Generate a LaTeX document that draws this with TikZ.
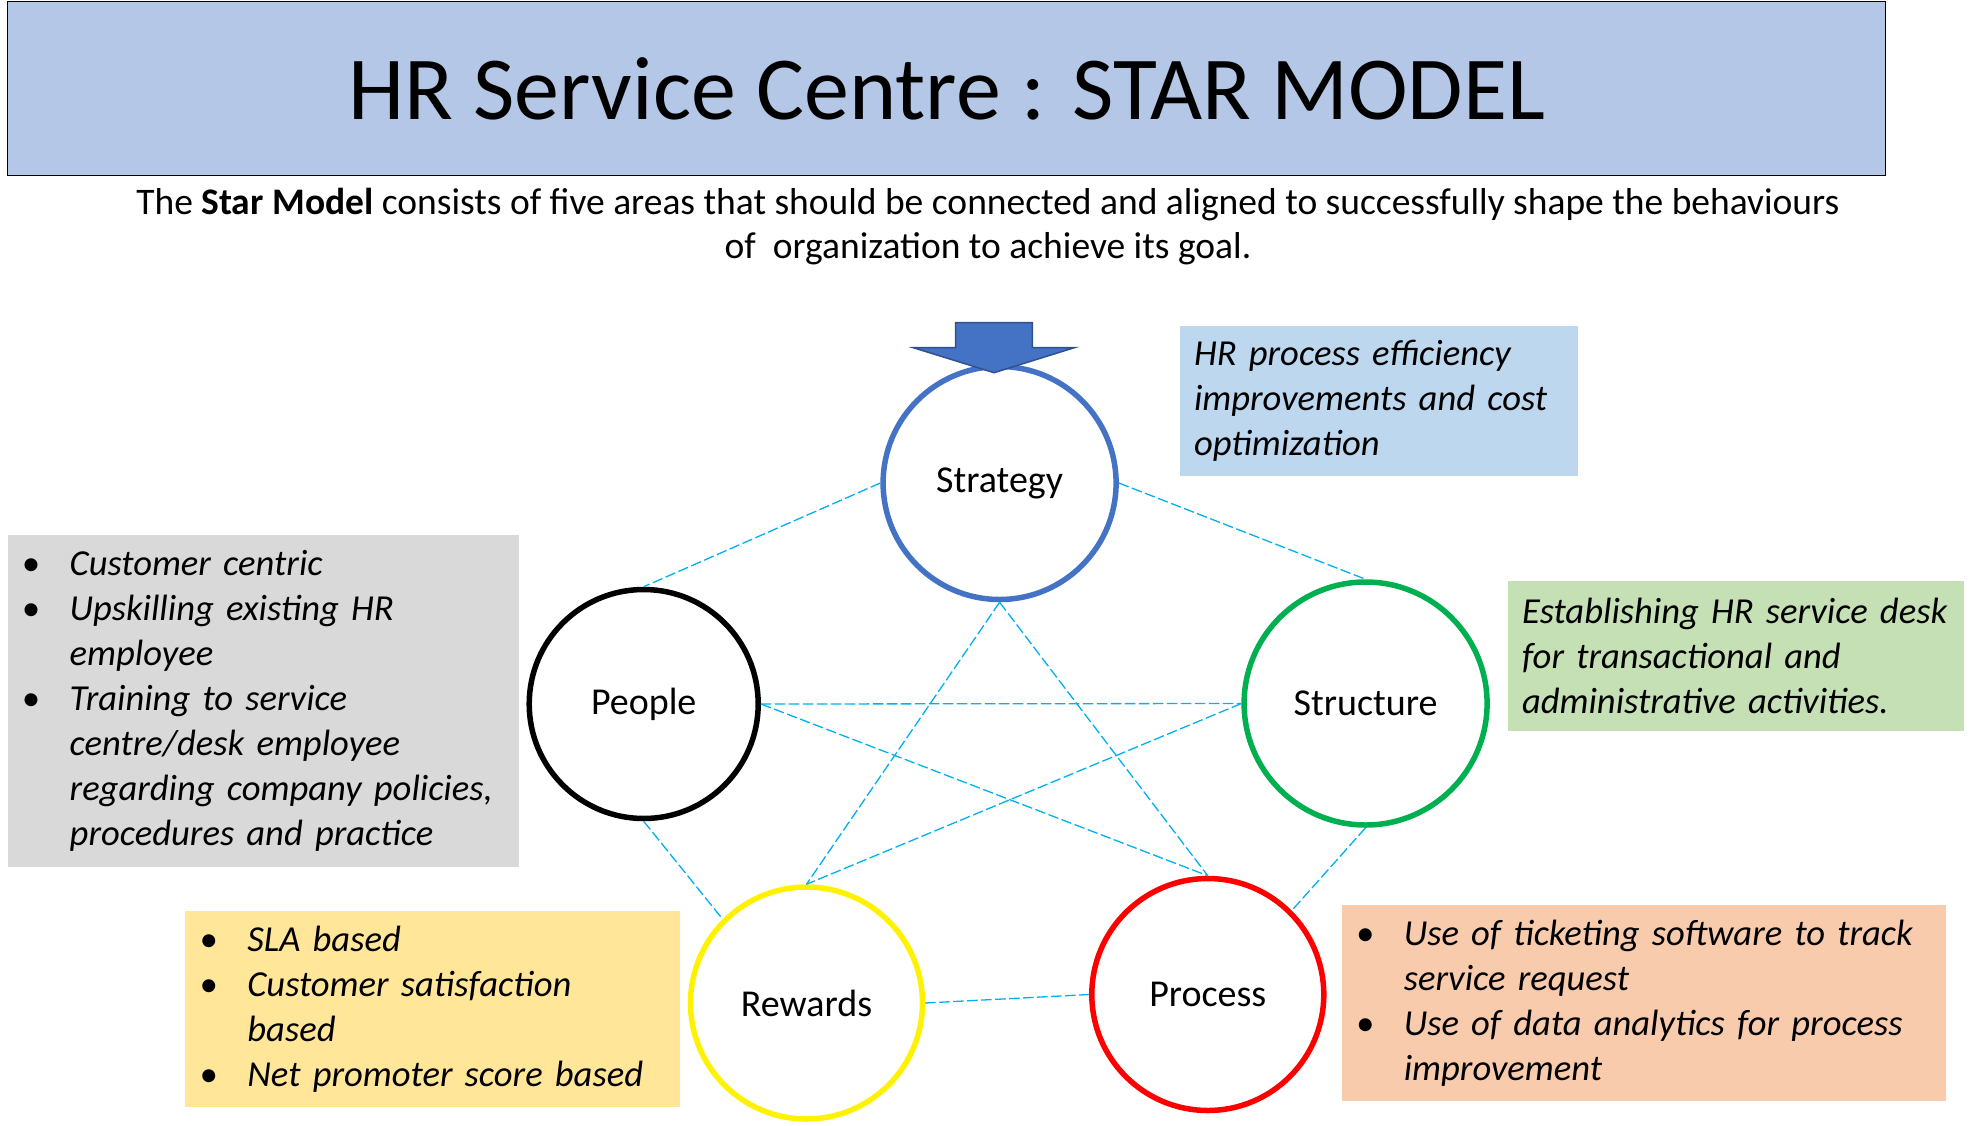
\documentclass[tikz,border=0pt]{standalone}
\usepackage{fontspec}
\setmainfont{Carlito}
\definecolor{titlefill}{HTML}{B4C7E7}
\definecolor{linkblue}{HTML}{00B0F0}
\definecolor{strategyblue}{HTML}{4472C4}
\definecolor{arrowedge}{HTML}{2F528F}
\definecolor{structuregreen}{HTML}{00B050}
\definecolor{greybox}{HTML}{D9D9D9}
\definecolor{bluebox}{HTML}{BDD7EE}
\definecolor{greenbox}{HTML}{C5E0B4}
\definecolor{yellowbox}{HTML}{FFE699}
\definecolor{orangebox}{HTML}{F8CBAD}
\newcommand{\bul}{\makebox[48pt][l]{\textbullet}}
\newcommand{\ind}{\hspace*{48pt}}
\begin{document}
\begin{tikzpicture}
  [x=1pt,y=-1pt,
   every node/.style={font=\fontsize{37.5}{44}\selectfont},
   area/.style={circle,draw,line width=5.5pt,fill=white,inner sep=0pt,font=\fontsize{38}{45}\selectfont},
   note/.style={rectangle,inner xsep=14pt,inner ysep=0pt,align=left,font=\fontsize{36.6}{45}\selectfont\itshape},
   link/.style={draw=linkblue,double=white,double distance=1.4pt,line width=1.3pt,dash pattern=on 10.5pt off 3.5pt}]
  \useasboundingbox (0,0) rectangle (1979,1125);
  \node (title) [draw,fill=titlefill,line width=1.5pt,minimum width=1878pt,minimum height=174pt,font=\fontsize{90}{108}\selectfont] at (946.6,88.4) {HR Service Centre : STAR MODEL};
  \node (intro) [align=center] at (988,227) {The \textbf{Star Model} consists of five areas that should be connected and aligned to successfully shape the behaviours\\of \ organization to achieve its goal.};
  % text boxes
  \node (goal) [note,fill=bluebox,text width=370pt,minimum height=150pt] at (1379,400.7) {HR process efficiency\\improvements and cost\\optimization};
  \node (peopletxt) [note,fill=greybox,text width=483pt,minimum height=332pt] at (263.2,701) {\bul Customer centric\\\bul Upskilling existing HR\\\ind employee\\\bul Training to service\\\ind centre/desk employee\\\ind regarding company policies,\\\ind procedures and practice};
  \node (structtxt) [note,fill=greenbox,text width=428pt,minimum height=150pt] at (1736,655.7) {Establishing HR service desk\\for transactional and\\administrative activities.};
  \node (rewardtxt) [note,fill=yellowbox,text width=467pt,minimum height=196pt] at (432.9,1009) {\bul SLA based\\\bul Customer satisfaction\\\ind based\\\bul Net promoter score based};
  \node (processtxt) [note,fill=orangebox,text width=576pt,minimum height=196pt] at (1643.8,1002.8) {\bul Use of ticketing software to track\\\ind service request\\\bul Use of data analytics for process\\\ind improvement};
  % star
  \node (strategy) [area,draw=strategyblue,minimum size=233pt] at (999.6,483) {Strategy};
  \node (people) [area,draw=black,minimum size=229pt] at (643.7,704) {People};
  \node (structure) [area,draw=structuregreen,minimum size=243pt] at (1365.6,703.5) {Structure};
  \node (rewards) [area,draw=yellow,minimum size=232pt] at (806.5,1003) {Rewards};
  \node (process) [area,draw=red,minimum size=232pt] at (1207.8,994.5) {Process};
  \path[link]
    (strategy.west) edge (people.north)
    (strategy.east) edge (structure.north)
    (strategy.south) edge (rewards.north)
    (strategy.south) edge (process.north)
    (people.east) edge (structure.west)
    (people.east) edge (process.north)
    (structure.west) edge (rewards.north)
    (people.south) edge (rewards.north west)
    (structure.south) edge (process.north east)
    (rewards.east) edge (process.west)
    ;
  \draw[fill=strategyblue,draw=arrowedge,line width=1.5pt]
    (955.7,322.7) -- (1032.3,322.7) -- (1032.3,347.7) -- (1074.3,347.7)
    -- (994,372.7) -- (913.3,347.7) -- (955.7,347.7) -- cycle;
\end{tikzpicture}
\end{document}
